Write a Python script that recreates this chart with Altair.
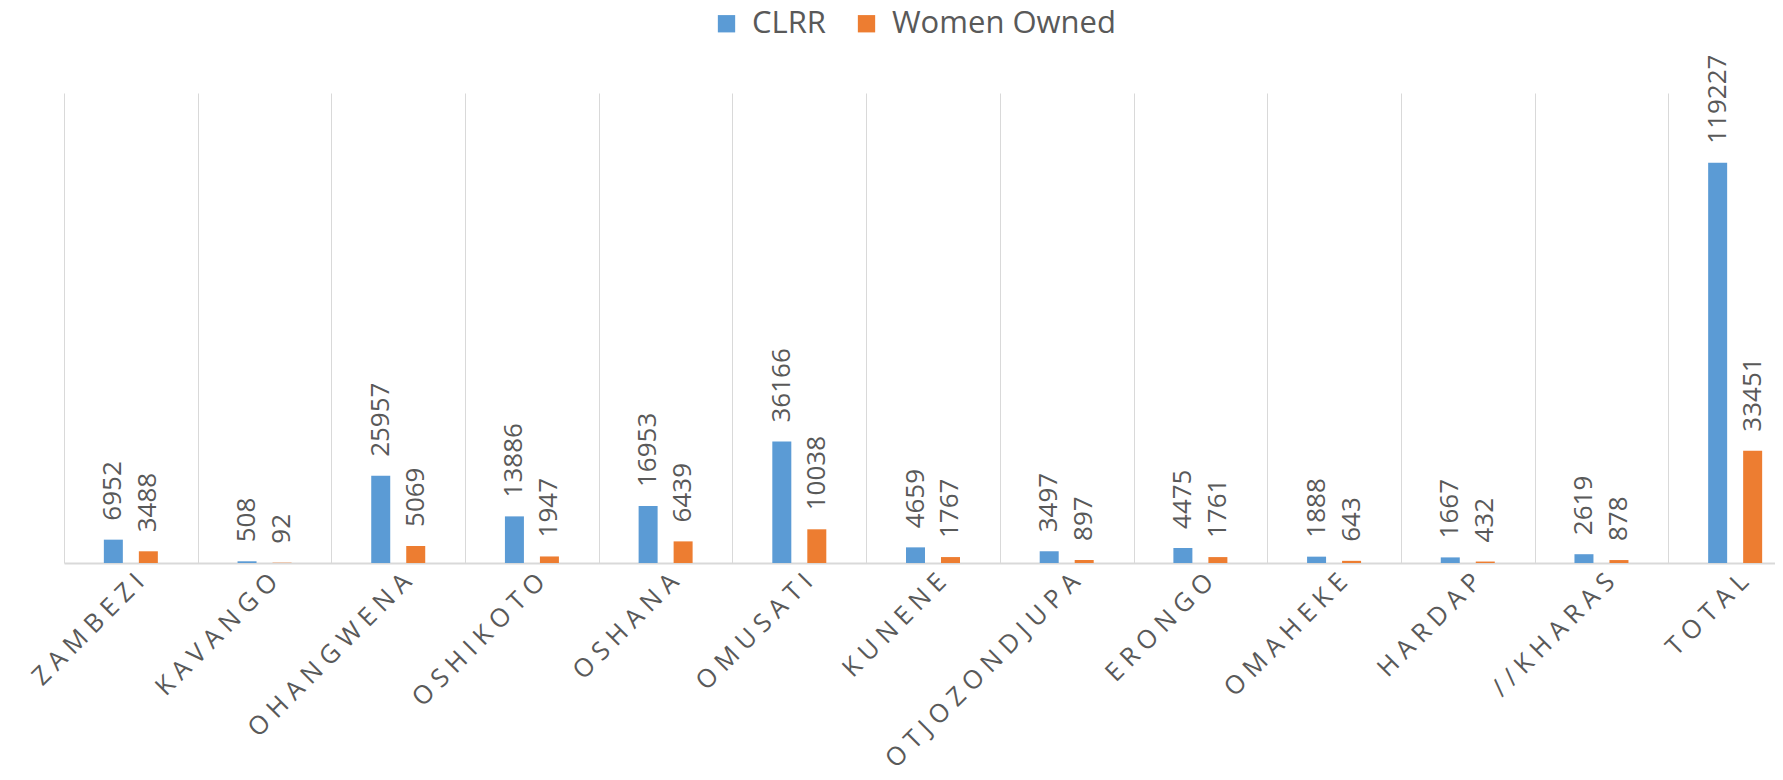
import altair as alt
import pandas as pd

regions = ["ZAMBEZI", "KAVANGO", "OHANGWENA", "OSHIKOTO", "OSHANA", "OMUSATI",
           "KUNENE", "OTJOZONDJUPA", "ERONGO", "OMAHEKE", "HARDAP", "//KHARAS", "TOTAL"]
clrr = [6952, 508, 25957, 13886, 16953, 36166, 4659, 3497, 4475, 1888, 1667, 2619, 119227]
women = [3488, 92, 5069, 1947, 6439, 10038, 1767, 897, 1761, 643, 432, 878, 33451]
series = ["CLRR", "Women Owned"]
colors = ["#5B9BD5", "#ED7D31"]

rows = []
for r, a, b in zip(regions, clrr, women):
    rows.append({"region": r, "series": series[0], "value": a})
    rows.append({"region": r, "series": series[1], "value": b})
df = pd.DataFrame(rows)

GRAY = "#595959"
LINE = "#d9d9d9"
sep = "\u00a0"

x_enc = alt.X(
    "region:N", sort=regions,
    scale=alt.Scale(paddingInner=0, paddingOuter=0, range=[0, 1738]),
    axis=alt.Axis(
        title=None, labelAngle=-45, labelAlign="right", labelBaseline="top",
        labelPadding=6, labelFont="Open Sans", labelFontSize=25.5, labelColor=GRAY,
        labelLimit=600, labelOverlap=False, ticks=False, tickBand="extent",
        domainColor=LINE, domainWidth=2, grid=True, gridColor=LINE, gridWidth=1,
        labelExpr="join(split(datum.label, ''), '" + sep + "')",
    ),
)
xo_enc = alt.XOffset("series:N", sort=series,
                     scale=alt.Scale(paddingInner=0.18, paddingOuter=1))
y_enc = alt.Y("value:Q", scale=alt.Scale(domain=[0, 140000], nice=False), axis=None)

bars = alt.Chart(df).mark_bar(width=19).encode(
    x=x_enc,
    xOffset=xo_enc,
    y=y_enc,
    color=alt.Color(
        "series:N", sort=series,
        scale=alt.Scale(domain=series, range=colors),
        legend=alt.Legend(
            orient="none", legendX=647, legendY=-85, direction="horizontal",
            title=None, symbolType="square", symbolSize=300, symbolStrokeWidth=0,
            symbolOpacity=1, labelFont="Open Sans", labelFontSize=31,
            labelColor=GRAY, columnPadding=25, labelOffset=10, labelLimit=500,
        ),
    ),
)

labels = alt.Chart(df).mark_text(
    angle=270, align="left", baseline="middle", dx=19,
    font="Open Sans", fontSize=26, color=GRAY,
).encode(
    x=x_enc,
    xOffset=xo_enc,
    y=y_enc,
    text=alt.Text("value:Q", format="d"),
)

chart = (
    alt.layer(bars, labels)
    .properties(
        width=1711, height=470,
        autosize=alt.AutoSizeParams(type="none"),
        padding={"left": 56, "top": 85, "right": 0, "bottom": 209},
        background="white",
    )
    .configure_view(stroke=None)
)

chart.save("out.html", embed_options={"renderer": "svg", "actions": False})
